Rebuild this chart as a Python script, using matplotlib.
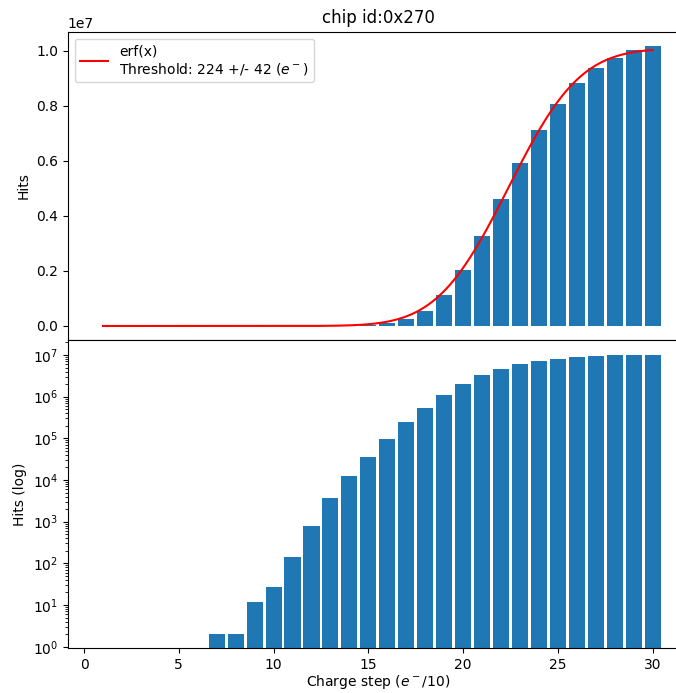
import math
import numpy as np
import matplotlib
matplotlib.use("Agg")
import matplotlib.pyplot as plt

# ---- data ----
steps = list(range(1, 31))
hits = [0, 0, 0, 0, 0, 0, 2, 2, 12, 27, 142, 790, 3700, 12500, 35500,
        96700, 245000, 533000, 1.12e6, 2.03e6, 3.27e6, 4.61e6, 5.92e6,
        7.12e6, 8.07e6, 8.84e6, 9.38e6, 9.75e6, 1.004e7, 1.018e7]
chip_id = "0x270"
threshold_e = 224
noise_e = 42
fit_amplitude = 1.008e7
fit_mu = 22.4
fit_sigma = 4.2
fit_x_range = (1, 30)

# ---- figure ----
fig = plt.figure(figsize=(6.76, 6.93), dpi=100)
left = 67.7 / 676
width = (688.7 - 67.7) / 676
h = 308.3 / 693
ax1 = fig.add_axes([left, (693 - 340) / 693, width, h])
ax2 = fig.add_axes([left, (693 - 648.3) / 693, width, h], sharex=ax1)

bar_w = 0.85
ax1.bar(steps, hits, width=bar_w, color="#1f77b4")
xf = np.linspace(fit_x_range[0], fit_x_range[1], 300)
yf = fit_amplitude / 2 * (1 + np.array([math.erf((v - fit_mu) / fit_sigma) for v in xf]))
ax1.plot(xf, yf, color="red",
         label=f"erf(x)\nThreshold: {threshold_e} +/- {noise_e} ($e^-$)")
ax1.legend(loc="upper left")
ax1.set_ylabel("Hits")
ax1.set_title(f"chip id:{chip_id}")
ax1.set_ylim(-0.0509e7, 1.069e7)
plt.setp(ax1.get_xticklabels(), visible=False)

ax2.bar(steps, hits, width=bar_w, color="#1f77b4")
ax2.set_yscale("log")
ax2.set_ylim(10 ** -0.038, 10 ** 7.36)
ax2.set_ylabel("Hits (log)")
ax2.set_xlabel("Charge step ($e^-$/10)", labelpad=1)
ax2.set_xlim(-0.86, 31.9)

fig.savefig("out.png", dpi=100)
